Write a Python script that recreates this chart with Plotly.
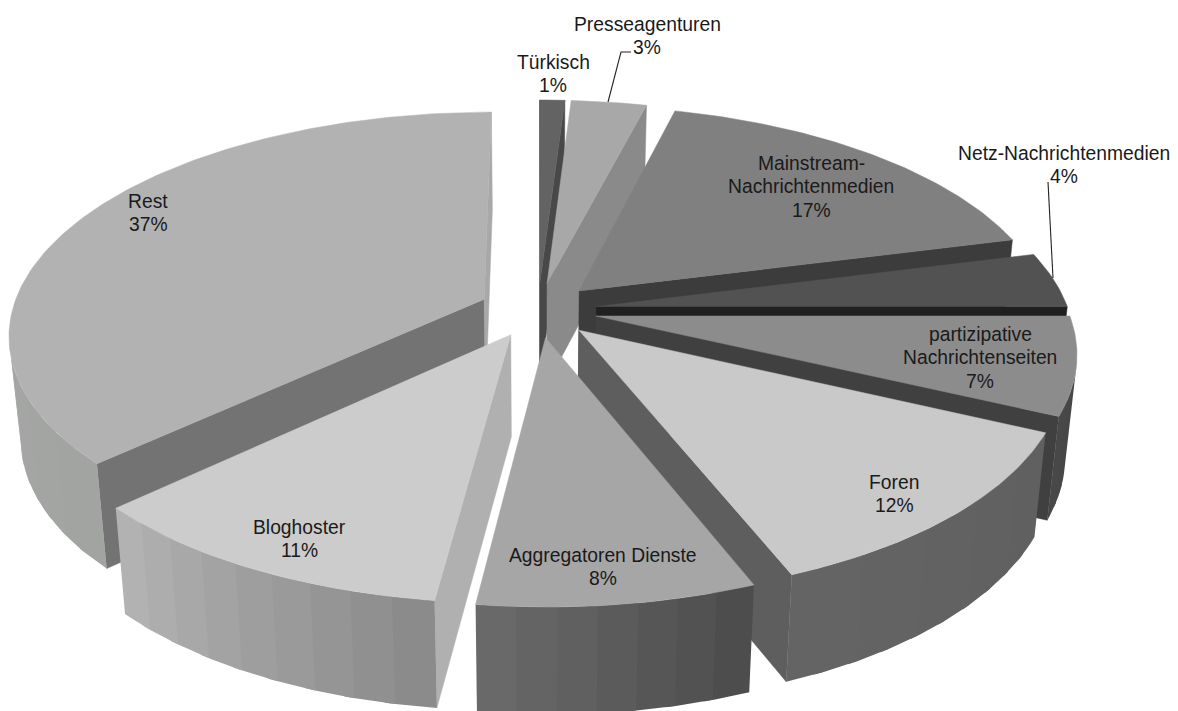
import math
import plotly.graph_objects as go

# Share of each source type, clockwise from twelve o'clock
categories = ["Türkisch", "Presseagenturen", "Mainstream-Nachrichtenmedien", "Netz-Nachrichtenmedien",
              "partizipative Nachrichtenseiten", "Foren", "Aggregatoren Dienste", "Bloghoster", "Rest"]
values = [1, 3, 17, 4, 7, 12, 8, 11, 37]

# Slice shading: top face, rim at slice start, rim at slice end, start wall, end wall
shades = {
    "Türkisch": ("#636363", "#555555", "#555555", "#555555", "#484848"),
    "Presseagenturen": ("#a8a8a8", "#8a8a8a", "#8a8a8a", "#999999", "#8a8a8a"),
    "Mainstream-Nachrichtenmedien": ("#808080", "#3c3c3c", "#3c3c3c", "#3c3c3c", "#3c3c3c"),
    "Netz-Nachrichtenmedien": ("#525252", "#222222", "#222222", "#222222", "#202020"),
    "partizipative Nachrichtenseiten": ("#8c8c8c", "#444444", "#484848", "#444444", "#404040"),
    "Foren": ("#c9c9c9", "#606060", "#646464", "#5e5e5e", "#5e5e5e"),
    "Aggregatoren Dienste": ("#a6a6a6", "#4d4d4d", "#696969", "#666666", "#666666"),
    "Bloghoster": ("#cccccc", "#8b8b8b", "#b2b2b2", "#b0b0b0", "#b0b0b0"),
    "Rest": ("#b2b2b2", "#a2a4a2", "#adadad", "#737373", "#a8a8a8"),
}
draw_order = ["Rest", "Türkisch", "Presseagenturen", "Mainstream-Nachrichtenmedien",
              "Netz-Nachrichtenmedien", "partizipative Nachrichtenseiten", "Foren",
              "Bloghoster", "Aggregatoren Dienste"]

# Projection of the tilted pie onto the page
CX, CY, RX, RY, PERSPECTIVE = 538.0, 310.0, 472.0, 218.8, 0.153
EXPLODE = 0.125
TAPER = 0.978
STRIP_DEGREES = 4.4


def top_point(x, y):
    scale = 1.0 / (1.0 - PERSPECTIVE * y)
    return CX + RX * x * scale, CY + RY * y * scale


def bottom_point(p):
    return CX + (p[0] - CX) * TAPER, p[1] + 95 + 0.021 * p[1]


def hex_mix(a, b, t):
    ca = [int(a[i:i + 2], 16) for i in (1, 3, 5)]
    cb = [int(b[i:i + 2], 16) for i in (1, 3, 5)]
    return "#%02x%02x%02x" % tuple(round(u + (v - u) * t) for u, v in zip(ca, cb))


def cross(a, b, c):
    return (b[0] - a[0]) * (c[1] - b[1]) - (b[1] - a[1]) * (c[0] - b[0])


fig = go.Figure()


def polygon(points, color, edge=0.5):
    fig.add_trace(go.Scatter(
        x=[p[0] for p in points] + [points[0][0]],
        y=[p[1] for p in points] + [points[0][1]],
        mode="lines", fill="toself", fillcolor=color,
        line=dict(color=color, width=edge),
        hoverinfo="skip", showlegend=False))


total = sum(values)
spans = {}
running = 0.0
for name, v in zip(categories, values):
    spans[name] = (running / total * 2 * math.pi, (running + v) / total * 2 * math.pi)
    running += v

for name in draw_order:
    a0, a1 = spans[name]
    mid = (a0 + a1) / 2
    ox, oy = EXPLODE * math.sin(mid), -EXPLODE * math.cos(mid)
    top_c, rim0, rim1, wall0, wall1 = shades[name]

    def rim(angle):
        return top_point(ox + math.sin(angle), oy - math.cos(angle))

    apex = top_point(ox, oy)
    apex_b = bottom_point(apex)

    # Cut walls, only where they face the viewer
    p = rim(a0)
    if cross(apex, p, bottom_point(p)) < 0:
        polygon([apex, p, bottom_point(p), apex_b], wall0)
    p = rim(a1)
    if cross(apex, p, bottom_point(p)) > 0:
        polygon([apex, p, bottom_point(p), apex_b], wall1)

    # Outer rim as faceted strips; each strip runs slightly under the next one
    n = max(1, round(math.degrees(a1 - a0) / STRIP_DEGREES))
    step = (a1 - a0) / n
    for i in range(n):
        b0 = a0 + step * i
        b1 = b0 + step * (1.25 if i < n - 1 else 1.0)
        arc = [rim(b0 + (b1 - b0) * j / 4) for j in range(5)]
        if cross(arc[0], arc[-1], bottom_point(arc[-1])) < 0:
            polygon(arc + [bottom_point(q) for q in reversed(arc)],
                    hex_mix(rim0, rim1, i / max(1, n - 1)), edge=0)

    # Top face
    steps = max(4, int(math.degrees(a1 - a0)))
    polygon([apex] + [rim(a0 + (a1 - a0) * j / steps) for j in range(steps + 1)], top_c)

# Leader lines for the two labels sitting outside the pie
for xs, ys in (([608, 621, 631], [102, 52, 52]), ([1053, 1048, 1048], [278, 182, 182])):
    fig.add_trace(go.Scatter(x=xs, y=ys, mode="lines", line=dict(color="#222222", width=1.1),
                             hoverinfo="skip", showlegend=False))

# Label lines: wrapped name, then the share, stacked from a first-line position
label_lines = {
    "Türkisch": ["Türkisch"],
    "Presseagenturen": ["Presseagenturen"],
    "Mainstream-Nachrichtenmedien": ["Mainstream-", "Nachrichtenmedien"],
    "Netz-Nachrichtenmedien": ["Netz-Nachrichtenmedien"],
    "partizipative Nachrichtenseiten": ["partizipative", "Nachrichtenseiten"],
    "Foren": ["Foren"],
    "Aggregatoren Dienste": ["Aggregatoren Dienste"],
    "Bloghoster": ["Bloghoster"],
    "Rest": ["Rest"],
}
label_anchor = {
    "Türkisch": (553, 62), "Presseagenturen": (647, 24),
    "Mainstream-Nachrichtenmedien": (811, 163), "Netz-Nachrichtenmedien": (1064, 153),
    "partizipative Nachrichtenseiten": (980, 334), "Foren": (894, 482),
    "Aggregatoren Dienste": (603, 555), "Bloghoster": (299, 527), "Rest": (148, 201),
}
LINE_GAP = 23.6
for name, v in zip(categories, values):
    x, y = label_anchor[name]
    for k, line in enumerate(label_lines[name] + [f"{v}%"]):
        fig.add_annotation(x=x, y=y + k * LINE_GAP, text=line, showarrow=False,
                           font=dict(family="Liberation Sans", size=19.3, color="#1a1a1a"))

fig.update_layout(
    width=1178, height=711, margin=dict(l=0, r=0, t=0, b=0),
    paper_bgcolor="white", plot_bgcolor="white", showlegend=False,
    xaxis=dict(range=[0, 1178], visible=False, fixedrange=True),
    yaxis=dict(range=[711, 0], visible=False, fixedrange=True),
)
fig.write_html("out.html", config={"displayModeBar": False})
